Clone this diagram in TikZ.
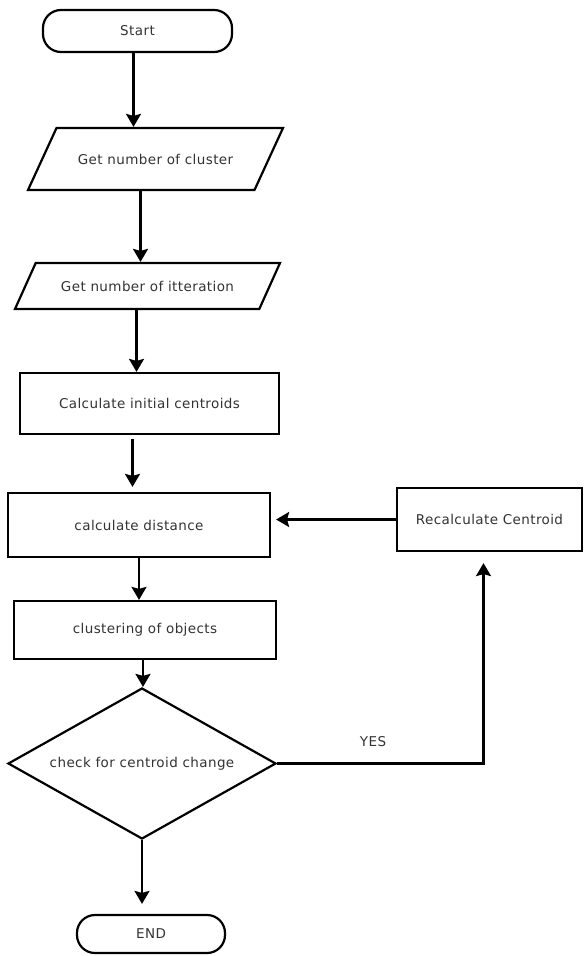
\documentclass[tikz,border=0pt]{standalone}
\usepackage{fontspec}
\setmainfont{DejaVu Sans}[LetterSpace=3]
\usetikzlibrary{shapes.geometric,arrows.meta}

\begin{document}
\begin{tikzpicture}[
        x=1pt, y=-1pt,
        >={Stealth[length=13pt,width=15pt,inset=2pt]},
        base/.style={draw, line width=2.2pt, align=center, inner sep=0pt, text=black!80, font=\fontsize{13.5}{16}\selectfont},
        term/.style={base, rounded corners=18pt},
        io/.style={base, trapezium, trapezium left angle=64, trapezium right angle=116, trapezium stretches body=true},
        proc/.style={base},
        check/.style={base, diamond, aspect=1.77},
        flow/.style={->, line width=2.2pt},
        lbl/.style={text=black!80, font=\fontsize{13.5}{16}\selectfont}
    ]
        \useasboundingbox (0,0) rectangle (585,956);

        \node[term, minimum width=189pt, minimum height=42pt] (start) at (137.5,31) {Start};
        \node[io, inner ysep=24pt, minimum width=255pt, minimum height=62pt] (ncl) at (155.5,159) {Get number of cluster};
        \node[io, inner ysep=16pt, minimum width=265pt, minimum height=46pt] (nit) at (147.5,286) {Get number of itteration};
        \node[proc, minimum width=259pt, minimum height=61pt] (init) at (149.5,403.5) {Calculate initial centroids};
        \node[proc, minimum width=262pt, minimum height=64pt] (dist) at (139,525) {calculate distance};
        \node[proc, minimum width=185pt, minimum height=63pt] (recalc) at (489.5,519.5) {Recalculate Centroid};
        \node[proc, minimum width=262pt, minimum height=58pt] (clus) at (145,630) {clustering of objects};
        \node[check, minimum width=268pt, minimum height=151pt] (chg) at (142,763.5) {check for centroid change};
        \node[term, minimum width=148pt, minimum height=38pt] (end) at (151,934) {END};
        \node[lbl] (yes) at (373,742) {YES};

        \draw[flow] ([xshift=-4pt]start.south) -- ([xshift=-4pt]start.south |- ncl.north);
        \draw[flow] ([xshift=-15pt]ncl.south) -- ([xshift=-15pt]ncl.south |- nit.north);
        \draw[flow] ([xshift=-11pt]nit.south) -- ([xshift=-11pt]nit.south |- init.north);
        \draw[flow, shorten <=4pt, shorten >=5pt] ([xshift=-17pt]init.south) -- ([xshift=-17pt]init.south |- dist.north);
        \draw[flow] (dist.south) -- (dist.south |- clus.north);
        \draw[flow] ([xshift=-2pt]clus.south) -- ([xshift=-2pt]clus.south |- chg.north);
        \draw[flow, shorten >=10pt] (chg.south) -- (chg.south |- end.north);
        \draw[flow, shorten >=5pt] (recalc.west) -- (recalc.west -| dist.east);
        \draw[flow, shorten >=11pt] (chg.east) -| ([xshift=-6pt]recalc.south);
    \end{tikzpicture}
\end{document}
